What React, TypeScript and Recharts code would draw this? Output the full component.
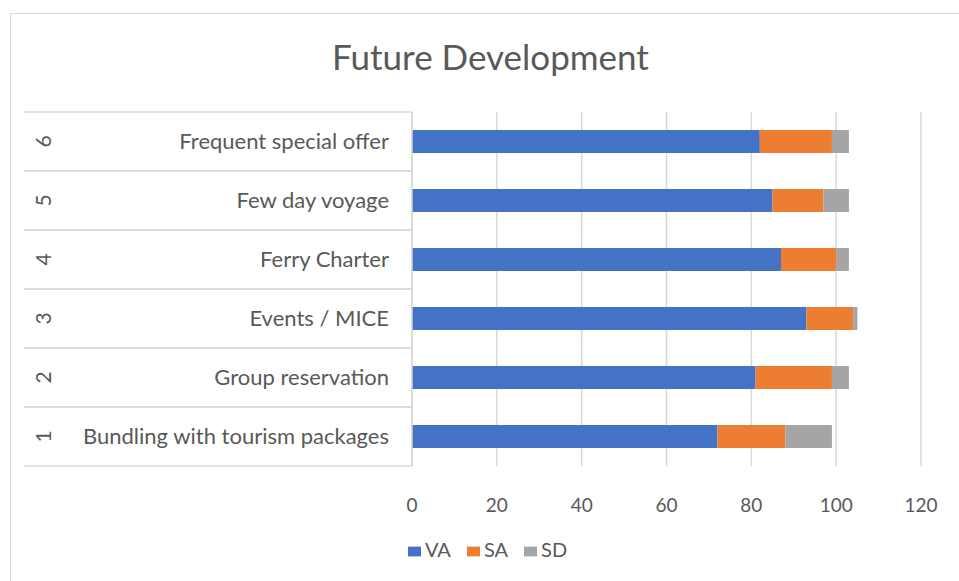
import { Bar, BarChart, CartesianGrid, Legend, XAxis, YAxis } from 'recharts'

const categories = [
  'Bundling with tourism packages',
  'Group reservation',
  'Events / MICE',
  'Ferry Charter',
  'Few day voyage',
  'Frequent special offer',
]
const rowNumbers = ['1', '2', '3', '4', '5', '6']
const vaValues = [72, 81, 93, 87, 85, 82]
const saValues = [16, 18, 11, 13, 12, 17]
const sdValues = [11, 4, 1, 3, 6, 4]
const xTicks = [0, 20, 40, 60, 80, 100, 120]
const seriesOrder = ['VA', 'SA', 'SD']

const FONT = "Lato, 'Open Sans', sans-serif"
const TEXT = '#595959'
const GRID = '#d9d9d9'
const BAND = 59

const data = categories.map((name, i) => ({
  name,
  num: rowNumbers[i],
  VA: vaValues[i],
  SA: saValues[i],
  SD: sdValues[i],
}))

function CategoryTick({ y, index }: any) {
  const top = y - BAND / 2
  return (
    <g>
      <line x1={24} x2={412} y1={top} y2={top} stroke={GRID} strokeWidth={1.5} />
      <line x1={24} x2={412} y1={top + BAND} y2={top + BAND} stroke={GRID} strokeWidth={1.5} />
      <text
        x={42}
        y={y}
        transform={`rotate(-90 42 ${y})`}
        textAnchor="middle"
        dominantBaseline="central"
        fill={TEXT}
        fontSize={21}
        fontFamily={FONT}
      >
        {rowNumbers[index]}
      </text>
      <text x={389} y={y - 1} textAnchor="end" dominantBaseline="central" fill={TEXT} fontSize={22} fontFamily={FONT}>
        {categories[index]}
      </text>
    </g>
  )
}

function ValueTick({ x, y, payload }: any) {
  return (
    <text x={x} y={y + 30} textAnchor="middle" dominantBaseline="central" fill={TEXT} fontSize={19} fontFamily={FONT}>
      {payload.value}
    </text>
  )
}

export default function App() {
  return (
    <div style={{ position: 'absolute', left: 0, top: 0, width: 959, height: 581, overflow: 'hidden', background: '#fff' }}>
      <div style={{ position: 'absolute', left: 10, top: 13, width: 1000, height: 700, border: `1.5px solid ${GRID}` }} />
      <div
        style={{
          position: 'absolute',
          left: 0,
          width: 981,
          top: 35,
          textAlign: 'center',
          fontFamily: FONT,
          fontSize: 35,
          color: TEXT,
        }}
      >
        Future Development
      </div>
      <div style={{ position: 'absolute', left: 0, top: 0 }}>
        <BarChart
          width={959}
          height={581}
          data={data}
          layout="vertical"
          margin={{ top: 112, right: 38, left: 0, bottom: 30 }}
          barSize={23}
        >
          <CartesianGrid horizontal={false} stroke={GRID} strokeWidth={1.5} />
          <XAxis
            type="number"
            domain={[0, 120]}
            ticks={xTicks}
            axisLine={false}
            tickLine={false}
            tick={<ValueTick />}
            height={40}
            interval={0}
          />
          <YAxis
            type="category"
            dataKey="name"
            reversed
            width={412}
            axisLine={{ stroke: GRID, strokeWidth: 1.5 }}
            tickLine={false}
            tick={<CategoryTick />}
            interval={0}
          />
          <Legend
            verticalAlign="bottom"
            height={45}
            iconType="rect"
            iconSize={13}
            itemSorter={(item: any) => seriesOrder.indexOf(item.value)}
            wrapperStyle={{ top: 537, left: 16, width: 959, fontFamily: FONT, fontSize: 20 }}
            formatter={(value: string) => <span style={{ color: TEXT, marginRight: 6 }}>{value}</span>}
          />
          <Bar dataKey="VA" stackId="a" fill="#4472c4" isAnimationActive={false} />
          <Bar dataKey="SA" stackId="a" fill="#ed7d31" isAnimationActive={false} />
          <Bar dataKey="SD" stackId="a" fill="#a5a5a5" isAnimationActive={false} />
        </BarChart>
      </div>
    </div>
  )
}
